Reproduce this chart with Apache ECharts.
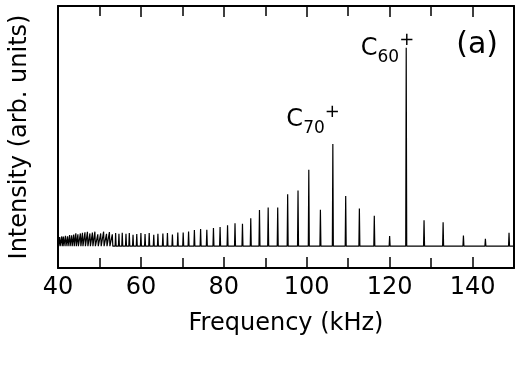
<!DOCTYPE html>
<html>
<head>
<meta charset="utf-8">
<script src="https://cdn.jsdelivr.net/npm/echarts@6/dist/echarts.min.js"></script>
<style>
  html, body { margin: 0; padding: 0; background: #fff; }
  #chart { width: 520px; height: 382px; }
</style>
</head>
<body>
<div id="chart"></div>
<script>
// peak positions (kHz) and heights (arb. units, C60+ = 100)
const peakFreqs = [40.0, 40.4, 40.9, 41.3, 41.8, 42.3, 42.8, 43.3, 43.8, 44.3,
    44.8, 45.4, 45.9, 46.5, 47.1, 47.7, 48.3, 48.9, 49.6, 50.3,
    51.0, 51.7, 52.4, 53.1, 53.9, 54.7, 55.5, 56.4, 57.2, 58.1,
    59.0, 60.0, 61.0, 62.0, 63.1, 64.1, 65.3, 66.4, 67.6, 68.9,
    70.2, 71.5, 72.9, 74.4, 75.9, 77.5, 79.1, 80.9, 82.7, 84.5,
    86.5, 88.6, 90.7, 93.0, 95.4, 97.9, 100.5, 103.3, 106.3, 109.4,
    112.7, 116.3, 120.0, 124.0, 128.3, 132.9, 137.8, 143.1, 148.8];
const peakHeights = [4.5, 4.6, 4.9, 4.8, 5.2, 5.0, 5.6, 5.5, 5.9, 6.5,
    6.0, 6.4, 6.7, 7.0, 7.2, 6.4, 6.9, 7.3, 6.0, 6.4,
    7.3, 6.2, 7.1, 6.0, 6.6, 6.2, 6.8, 6.3, 6.6, 5.8,
    6.1, 6.6, 6.1, 6.6, 5.7, 6.2, 6.4, 6.6, 5.9, 6.9,
    6.9, 7.4, 8.1, 8.6, 8.2, 9.1, 9.7, 10.5, 11.6, 11.3,
    14.0, 18.2, 19.5, 19.5, 26.1, 28.1, 38.5, 18.3, 51.5, 25.3,
    19.0, 15.3, 5.1, 100, 13.0, 12.1, 5.4, 3.7, 6.7];
const xTicks = [40, 60, 80, 100, 120, 140];

const peakLabels = [
    { name: 'C60', freq: 124.0, height: 100, sub: '60', offset: [8, 1] },
    { name: 'C70', freq: 106.3, height: 51.5, sub: '70', offset: [7, -24] }
];

// each peak drawn as a narrow spike rising from the baseline
const halfWidth = 0.12;
const spectrum = [[40, 0]];
peakFreqs.forEach((f, i) => {
    spectrum.push([f - halfWidth, 0], [f, peakHeights[i]], [f + halfWidth, 0]);
});
spectrum.push([150, 0]);

const font = 'DejaVu Sans';
const axisLine = { show: true, onZero: false, lineStyle: { color: '#000', width: 2 } };
const tickStyle = { color: '#000', width: 1.5 };

const chart = echarts.init(document.getElementById('chart'));

chart.setOption({
    animation: false,
    grid: { left: 57, right: 6, top: 6, bottom: 114 },
    xAxis: [{
        type: 'value',
        min: 40, max: 150, interval: 20,
        name: 'Frequency (kHz)',
        nameLocation: 'middle',
        nameGap: 44,
        nameTextStyle: { fontFamily: font, fontSize: 24, color: '#000' },
        axisLine: axisLine,
        axisTick: { inside: true, length: 11, lineStyle: tickStyle },
        minorTick: { show: true, splitNumber: 2, length: 10, lineStyle: tickStyle },
        axisLabel: {
            margin: 8,
            fontFamily: font, fontSize: 24, color: '#000',
            formatter: v => (xTicks.indexOf(v) >= 0 ? String(v) : '')
        },
        splitLine: { show: false }
    }, {
        type: 'value',
        position: 'top',
        min: 40, max: 150, interval: 20,
        axisLine: axisLine,
        axisTick: { inside: true, length: 11, lineStyle: tickStyle },
        minorTick: { show: true, splitNumber: 2, length: 10, lineStyle: tickStyle },
        axisLabel: { show: false },
        splitLine: { show: false }
    }],
    yAxis: [{
        type: 'value',
        min: -11, max: 121,
        name: 'Intensity (arb. units)',
        nameLocation: 'middle',
        nameGap: 26,
        nameTextStyle: { fontFamily: font, fontSize: 24, color: '#000' },
        axisLine: axisLine,
        axisTick: { show: false },
        axisLabel: { show: false },
        splitLine: { show: false }
    }, {
        type: 'value',
        position: 'right',
        min: -11, max: 121,
        axisLine: axisLine,
        axisTick: { show: false },
        axisLabel: { show: false },
        splitLine: { show: false }
    }],
    graphic: [{
        type: 'text',
        right: 22,
        top: 30,
        style: { text: '(a)', font: '30px "DejaVu Sans"', fill: '#000' }
    }],
    series: [{
        type: 'line',
        data: spectrum,
        showSymbol: false,
        clip: true,
        lineStyle: { color: '#000', width: 1.2 },
        markPoint: {
            symbol: 'rect',
            symbolSize: 1,
            itemStyle: { color: 'rgba(0,0,0,0)' },
            data: peakLabels.map(p => ({
                coord: [p.freq, p.height],
                label: {
                    show: true,
                    position: 'inside',
                    align: 'right',
                    verticalAlign: 'middle',
                    offset: p.offset,
                    formatter: '{c|C}{s|' + p.sub + '}{p|+}',
                    rich: {
                        c: { fontFamily: font, fontSize: 24, lineHeight: 34, verticalAlign: 'middle', color: '#000' },
                        s: { fontFamily: font, fontSize: 17, lineHeight: 17, verticalAlign: 'bottom', color: '#000' },
                        p: { fontFamily: font, fontSize: 18, lineHeight: 18, verticalAlign: 'top', color: '#000' }
                    }
                }
            }))
        }
    }]
});
</script>
</body>
</html>
